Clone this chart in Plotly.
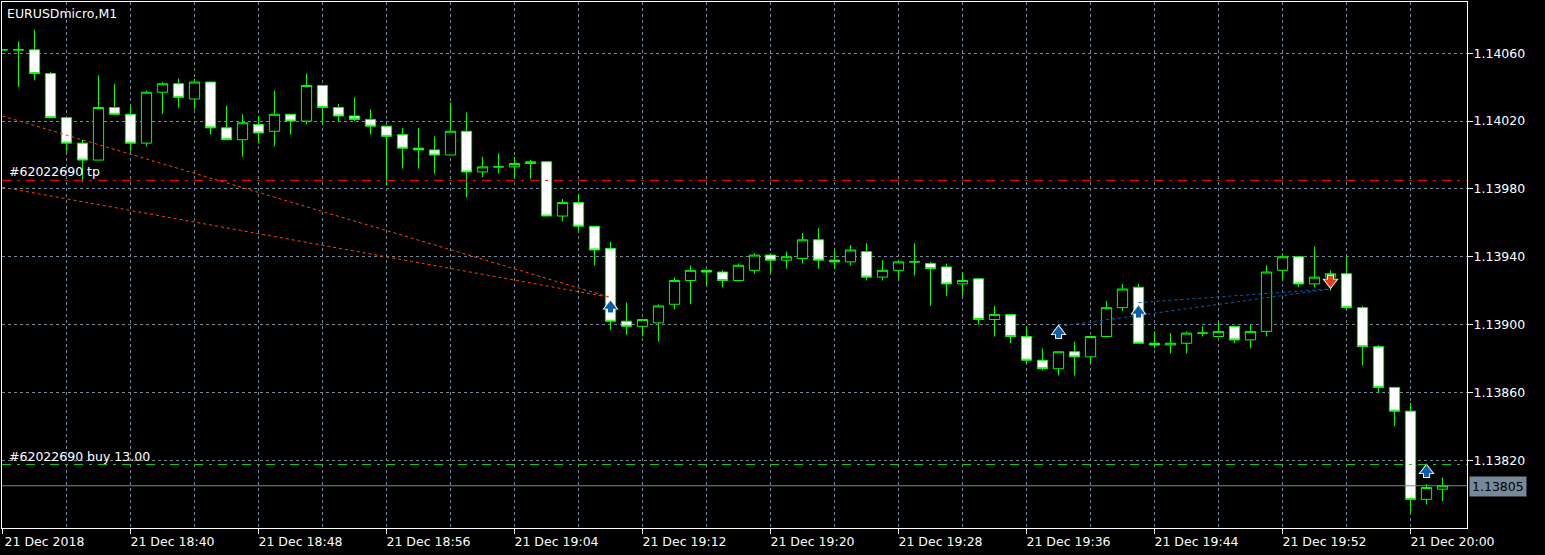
import plotly.graph_objects as go
from datetime import datetime, timedelta

start = datetime(2018, 12, 21, 18, 32)
opens = [114062,114062,114062,114048,114022,114007,113997,114028,114024,114007,114037,114042,114033,114043,114016,114009,114018,114014,114024,114020,114041,114028,114023,114021,114017,114012,114004,114003,114000,114014,113990,113993,113993,113995,113996,113964,113972,113958,113945,113902,113899,113901,113912,113926,113932,113931,113926,113932,113941,113938,113939,113950,113938,113937,113943,113928,113932,113937,113936,113934,113924,113927,113903,113906,113893,113879,113874,113884,113881,113893,113910,113922,113889,113888,113889,113895,113893,113899,113891,113896,113932,113940,113924,113928,113930,113910,113887,113863,113849,113797,113803]
highs = [114062,114067,114074,114049,114022,114009,114047,114042,114029,114038,114043,114045,114045,114043,114029,114024,114023,114038,114024,114048,114041,114030,114034,114027,114017,114016,114016,114011,114031,114025,113999,114001,113999,113997,113996,113974,113977,113958,113949,113913,113903,113912,113928,113935,113932,113932,113936,113942,113942,113943,113954,113957,113944,113947,113948,113938,113938,113948,113937,113936,113931,113927,113911,113906,113899,113886,113884,113890,113893,113914,113924,113924,113896,113895,113896,113899,113902,113899,113900,113935,113942,113940,113946,113932,113940,113911,113888,113863,113854,113806,113810]
lows = [114062,114040,114044,114022,114002,113984,113997,114024,114002,114005,114024,114028,114027,114012,114009,113999,114007,114005,114012,114018,114018,114020,114020,114012,113982,113992,113992,113989,114000,113975,113987,113989,113986,113986,113964,113961,113955,113935,113897,113894,113893,113890,113909,113912,113923,113922,113926,113930,113930,113933,113936,113933,113933,113935,113926,113926,113927,113929,113911,113917,113917,113900,113893,113889,113877,113873,113870,113870,113877,113893,113908,113889,113886,113883,113883,113893,113893,113889,113886,113893,113926,113922,113922,113920,113909,113876,113860,113840,113789,113794,113796]
closes = [114062,114062,114048,114022,114007,113997,114028,114024,114007,114037,114042,114034,114043,114016,114009,114019,114013,114024,114020,114041,114028,114023,114021,114017,114011,114004,114003,114000,114014,113990,113993,113993,113995,113996,113964,113972,113958,113944,113902,113899,113903,113911,113926,113932,113931,113926,113935,113941,113938,113940,113950,113938,113937,113944,113928,113932,113937,113937,113933,113924,113926,113903,113906,113893,113879,113874,113884,113881,113893,113910,113921,113889,113888,113889,113895,113895,113896,113891,113896,113931,113940,113924,113928,113930,113910,113887,113863,113849,113797,113804,113805]
y_ticks = [1.14060, 1.14020, 1.13980, 1.13940, 1.13900, 1.13860, 1.13820]
tick_minutes = list(range(0, 89, 8))
tick_labels = ["21 Dec 2018","21 Dec 18:40","21 Dec 18:48","21 Dec 18:56","21 Dec 19:04","21 Dec 19:12","21 Dec 19:20","21 Dec 19:28","21 Dec 19:36","21 Dec 19:44","21 Dec 19:52","21 Dec 20:00"]
last_price = 1.13805
tp_price = 1.13985
buy_price = 1.138175
# trade connector lines: (bar index, price)
red_a = [(0, 1.14023), (38, 1.13916)]
red_b = [(0, 1.13981), (38, 1.13916)]
blue_a = [(66, 1.13899), (83, 1.13921)]
blue_b = [(71, 1.13913), (83, 1.13921)]
buy_bars = [38, 66, 71, 89]
buy_marks = [1.13911, 1.13896, 1.13908, 1.13814]
sell_bars = [83]
sell_marks = [1.13925]

GRID = "#778899"
GREEN = "#00FF00"

def t(i):
    return start + timedelta(minutes=i)

times = [t(i) for i in range(len(opens))]
scale = lambda a: [v / 100000 for v in a]

fig = go.Figure()
fig.add_trace(go.Candlestick(
    x=times, open=scale(opens), high=scale(highs), low=scale(lows), close=scale(closes),
    whiskerwidth=0,
    increasing=dict(line=dict(color=GREEN, width=1), fillcolor="#000000"),
    decreasing=dict(line=dict(color=GREEN, width=1), fillcolor="#FFFFFF"),
    showlegend=False, hoverinfo="skip"))

for seg, col in ((red_a, "#FF4500"), (red_b, "#FF4500"), (blue_a, "#0A5FB0"), (blue_b, "#0A5FB0")):
    fig.add_trace(go.Scatter(x=[t(s[0]) for s in seg], y=[s[1] for s in seg], mode="lines",
                             line=dict(color=col, width=1, dash="3px,3px"),
                             showlegend=False, hoverinfo="skip"))

def arrow(bars, prices, color, angle):
    xs = [t(b) for b in bars]
    for col, stem, head in (("#FFFFFF", 7, 14), (color, 5, 11)):
        fig.add_trace(go.Scatter(x=xs, y=prices, mode="markers", showlegend=False, hoverinfo="skip", cliponaxis=False,
            marker=dict(symbol="square", size=stem, color=col, angle=angle, standoff=4, line=dict(width=0))))
        fig.add_trace(go.Scatter(x=xs, y=prices, mode="markers", showlegend=False, hoverinfo="skip", cliponaxis=False,
            marker=dict(symbol="triangle-up", size=head, color=col, angle=angle, line=dict(width=0))))

arrow(buy_bars, buy_marks, "#0A5FA8", 0)
arrow(sell_bars, sell_marks, "#E0401A", 180)

line_shapes = [
    dict(y=last_price, color=GRID, dash="solid"),
    dict(y=tp_price, color="#FF0000", dash="9px,6px,3px,6px"),
    dict(y=buy_price, color="#22CC22", dash="9px,6px,3px,6px"),
]
for s in line_shapes:
    fig.add_shape(type="line", xref="paper", x0=0, x1=1, yref="y", y0=s["y"], y1=s["y"],
                  line=dict(color=s["color"], width=1, dash=s["dash"]), layer="above")

FONT = "DejaVu Sans"
SIZE = 12.5
fig.add_annotation(xref="paper", yref="paper", x=0, y=1, xanchor="left", yanchor="top", xshift=3, yshift=-2,
                   text="EURUSDmicro,M1", showarrow=False, font=dict(family=FONT, size=SIZE, color="#FFFFFF"))
fig.add_annotation(xref="paper", yref="y", x=0, y=tp_price, xanchor="left", yanchor="bottom", xshift=5, yshift=-1,
                   text="#62022690 tp", showarrow=False, font=dict(family=FONT, size=SIZE, color="#FFFFFF"))
fig.add_annotation(xref="paper", yref="y", x=0, y=buy_price, xanchor="left", yanchor="bottom", xshift=5, yshift=-1,
                   text="#62022690 buy 13.00", showarrow=False, font=dict(family=FONT, size=SIZE, color="#FFFFFF"))
fig.add_annotation(xref="paper", yref="y", x=1, y=last_price, xanchor="left", yanchor="middle", xshift=2, yshift=-1,
                   text="1.13805", showarrow=False, bgcolor=GRID, borderpad=2,
                   font=dict(family=FONT, size=SIZE, color="#000000"))

fig.update_layout(
    width=1545, height=555, margin=dict(l=2, r=78, t=2, b=27),
    paper_bgcolor="#000000", plot_bgcolor="#000000", boxgap=0.36, boxgroupgap=0, showlegend=False,
    font=dict(family=FONT, size=SIZE, color="#FFFFFF"),
    xaxis=dict(
        type="date", range=[start - timedelta(minutes=0.031), start + timedelta(minutes=91.53)],
        rangeslider=dict(visible=False),
        tickvals=[t(m) for m in tick_minutes], ticktext=tick_labels,
        ticks="outside", ticklen=5, tickcolor="#FFFFFF", tickwidth=1, ticklabelshift=42, ticklabelstandoff=-3,
        tickfont=dict(family=FONT, size=SIZE, color="#FFFFFF"),
        showgrid=True, gridcolor=GRID, griddash="3px,3px", gridwidth=1,
        minor=dict(tick0=start, dtick=240000, showgrid=True, gridcolor=GRID, griddash="3px,3px", gridwidth=1, ticks=""),
        showline=True, linecolor="#FFFFFF", linewidth=1, mirror=True, zeroline=False,
    ),
    yaxis=dict(
        side="right", range=[1.137801, 1.140902],
        tickvals=y_ticks, tickformat=".5f",
        ticks="outside", ticklen=5, tickcolor="#FFFFFF", tickwidth=1, ticklabelstandoff=-2,
        tickfont=dict(family=FONT, size=SIZE, color="#FFFFFF"),
        showgrid=True, gridcolor=GRID, griddash="3px,3px", gridwidth=1,
        showline=True, linecolor="#FFFFFF", linewidth=1, mirror=True, zeroline=False,
    ),
)

fig.write_html("out.html", config={"displayModeBar": False}, post_script="document.body.style.margin='0';")
